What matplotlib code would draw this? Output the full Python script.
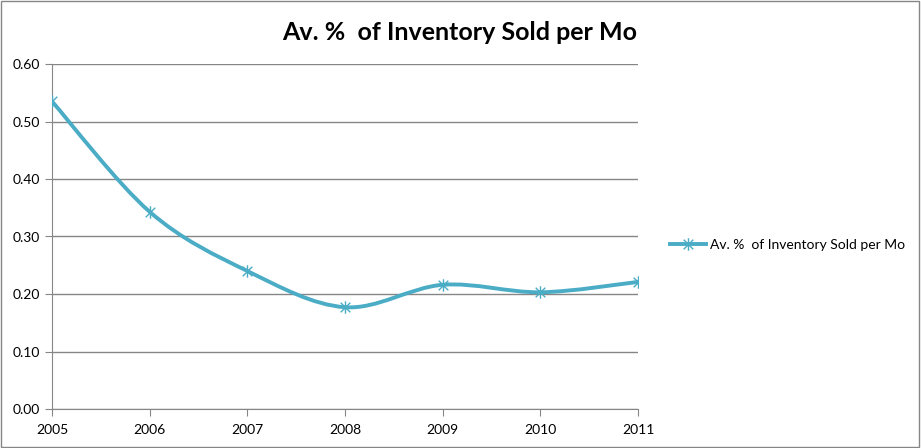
import numpy as np
import matplotlib
matplotlib.use("Agg")
import matplotlib.pyplot as plt
from matplotlib.path import Path
from matplotlib.patches import PathPatch, Rectangle
from matplotlib.lines import Line2D

plt.rcParams['font.family'] = ['Lato', 'DejaVu Sans']

years = [2005, 2006, 2007, 2008, 2009, 2010, 2011]
pct_sold = [0.535, 0.343, 0.240, 0.177, 0.216, 0.203, 0.221]
series_name = "Av. %  of Inventory Sold per Mo"
title = "Av. %  of Inventory Sold per Mo"

line_col = '#4BACC6'
grid_col = '#868686'

# Excel style star marker: an x with a vertical bar through it
star = Path([(-1, -1), (1, 1), (-1, 1), (1, -1), (0, -1.3), (0, 1.3)],
            [Path.MOVETO, Path.LINETO] * 3)

fig = plt.figure(figsize=(9.21, 4.48), dpi=100)
ax = fig.add_axes([52 / 921, 39 / 448, 586 / 921, 345 / 448])

# smooth line like Excel: bezier segments with catmull-rom style control points
x = np.array(years, dtype=float)
y = np.array(pct_sold)
verts = [(x[0], y[0])]
codes = [Path.MOVETO]
n = len(x)
for i in range(n - 1):
    p0 = (x[i - 1], y[i - 1]) if i > 0 else (x[i], y[i])
    p3 = (x[i + 2], y[i + 2]) if i + 2 < n else (x[i + 1], y[i + 1])
    c1 = (x[i] + (x[i + 1] - p0[0]) / 6, y[i] + (y[i + 1] - p0[1]) / 6)
    c2 = (x[i + 1] - (p3[0] - x[i]) / 6, y[i + 1] - (p3[1] - y[i]) / 6)
    verts += [c1, c2, (x[i + 1], y[i + 1])]
    codes += [Path.CURVE4] * 3
ax.add_patch(PathPatch(Path(verts, codes), facecolor='none', edgecolor=line_col,
                       lw=2.8, capstyle='round', zorder=3))

ax.plot(years, pct_sold, linestyle='none', marker=star, ms=9, mew=1.0,
        color=line_col, zorder=4)

ax.set_xlim(2005, 2011)
ax.set_ylim(0, 0.6)
ax.set_xticks(years)
ax.set_yticks(np.arange(0, 0.61, 0.1))
ax.set_yticklabels(['%.2f' % v for v in np.arange(0, 0.61, 0.1)])
ax.yaxis.grid(True, color=grid_col, lw=1)
ax.set_axisbelow(True)
for s in ['top', 'right']:
    ax.spines[s].set_visible(False)
for s in ['left', 'bottom']:
    ax.spines[s].set_color(grid_col)
ax.tick_params(axis='both', colors=grid_col, length=5, labelcolor='black', labelsize=10)
ax.tick_params(axis='x', pad=6)

fig.text(460 / 921, 1 - 32 / 448, title, ha='center', va='center',
         fontsize=18, fontweight='bold')

handle = Line2D([], [], color=line_col, lw=2.8, marker=star, ms=9, mew=1.0)
fig.legend([handle], [series_name], loc='center left',
           bbox_to_anchor=(657 / 921, 1 - 245 / 448), frameon=False,
           fontsize=10, handlelength=2.6, handletextpad=0.3)

fig.add_artist(Rectangle((0.001, 0.002), 0.997, 0.996, transform=fig.transFigure,
                         fill=False, edgecolor=grid_col, lw=1))

fig.savefig('out.png', dpi=100)
